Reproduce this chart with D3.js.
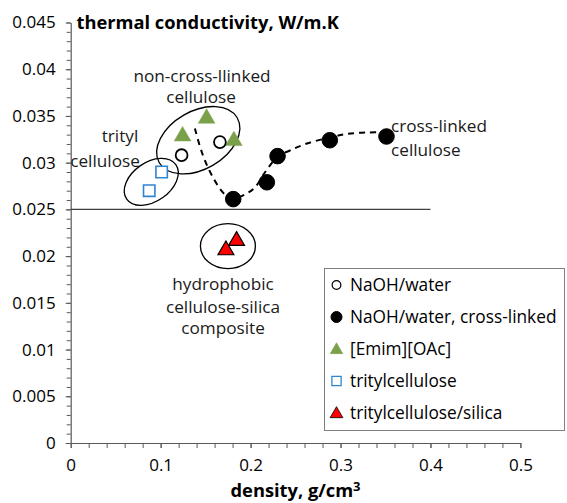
<!DOCTYPE html>
<html>
<head>
<meta charset="utf-8">
<script src="https://cdn.jsdelivr.net/npm/d3@7"></script>
<style>
  html, body { margin: 0; padding: 0; background: #fff; }
  svg { display: block; font-family: "Open Sans", Lato, sans-serif; }
</style>
</head>
<body>
<svg id="chart" width="567" height="503"></svg>
<script>
// Thermal conductivity vs density of cellulose aerogels
const naohWater = [[0.1233, 0.0308], [0.1659, 0.0322]];
const naohCrossLinked = [[0.1807, 0.0261], [0.2181, 0.0279], [0.2300, 0.0307], [0.2881, 0.0324], [0.3511, 0.0328]];
const emimOAc = [[0.1244, 0.0330], [0.1511, 0.0349], [0.1814, 0.0325]];
const tritylCellulose = [[0.0873, 0.0270], [0.1011, 0.0290]];
const tritylSilica = [[0.1844, 0.0218], [0.1726, 0.0208]];

// dashed trend through the cross-linked series
const trend = [[0.1381, 0.03365], [0.1459, 0.03109], [0.1570, 0.02863], [0.1703, 0.02671], [0.1803, 0.02618],
  [0.1937, 0.02660], [0.2048, 0.02735], [0.2159, 0.02895], [0.2303, 0.03066], [0.2437, 0.03130],
  [0.2626, 0.03205], [0.2881, 0.03269], [0.3070, 0.03307], [0.3292, 0.03323], [0.3526, 0.03323]];

// reference level
const refLevel = 0.025;
const refLevelEnd = 0.4;

const xTicks = [0, 0.1, 0.2, 0.3, 0.4, 0.5];
const xTickLabels = ["0", "0.1", "0.2", "0.3", "0.4", "0.5"];
const yTicks = [0, 0.005, 0.01, 0.015, 0.02, 0.025, 0.03, 0.035, 0.04, 0.045];
const yTickLabels = ["0", "0.005", "0.01", "0.015", "0.02", "0.025", "0.03", "0.035", "0.04", "0.045"];

const legendLabels = ["NaOH/water", "NaOH/water, cross-linked", "[Emim][OAc]", "tritylcellulose", "tritylcellulose/silica"];

// group outlines: centre in data units
const groupCentres = [[0.0896, 0.02795], [0.1418, 0.03240], [0.1748, 0.02106]];
const groupLabels = [
  ["trityl", "cellulose"],
  ["non-cross-llinked", "cellulose"],
  ["hydrophobic", "cellulose-silica", "composite"],
  ["cross-linked", "cellulose"]
];

const GREEN = "#7aa049", BLUE = "#2e86d0", RED = "#ff0000";
const FONT = "'Open Sans', Lato, sans-serif";

const svg = d3.select("#chart");
const x = d3.scaleLinear().domain([0, 0.5]).range([70.7, 520.4]);
const y = d3.scaleLinear().domain([0, 0.045]).range([443, 22.5]);

const fmtIdx = (vals, labels) => d => labels[vals.findIndex(v => Math.abs(v - d) < 1e-9)];

// minor ticks
svg.append("g").attr("transform", `translate(0,${y(0)})`)
  .call(d3.axisBottom(x).tickValues(d3.range(0, 0.5001, 0.02)).tickSize(5).tickFormat(""))
  .call(g => g.select(".domain").remove())
  .call(g => g.selectAll("line").attr("stroke", "#595959"));
svg.append("g").attr("transform", `translate(${x(0)},0)`)
  .call(d3.axisLeft(y).tickValues(d3.range(0, 0.04501, 0.001)).tickSize(4).tickFormat(""))
  .call(g => g.select(".domain").remove())
  .call(g => g.selectAll("line").attr("stroke", "#595959"));

// major axes
const xAxis = svg.append("g").attr("transform", `translate(0,${y(0)})`)
  .call(d3.axisBottom(x).tickValues(xTicks).tickSize(5).tickSizeOuter(0).tickPadding(11).tickFormat(fmtIdx(xTicks, xTickLabels)));
const yAxis = svg.append("g").attr("transform", `translate(${x(0)},0)`)
  .call(d3.axisLeft(y).tickValues(yTicks).tickSize(5).tickSizeOuter(0).tickPadding(10).tickFormat(fmtIdx(yTicks, yTickLabels)));
[xAxis, yAxis].forEach(a => {
  a.select(".domain").attr("stroke", "#595959").attr("stroke-width", 1.2);
  a.selectAll("line").attr("stroke", "#595959");
  a.selectAll("text").attr("font-size", 17).attr("fill", "#000").attr("font-family", FONT);
});
xAxis.selectAll("text").attr("dy", "0.71em");

// axis titles
svg.append("text").attr("x", 76.5).attr("y", 28.7)
  .attr("font-size", 18.3).attr("font-weight", "bold").text("thermal conductivity, W/m.K");
const xt = svg.append("text").attr("x", (x(0) + x(0.5)) / 2).attr("y", 497)
  .attr("text-anchor", "middle").attr("font-size", 18.3).attr("font-weight", "bold");
xt.append("tspan").text("density, g/cm");
xt.append("tspan").attr("font-size", 13).attr("dy", -6).text("3");

// reference line
svg.append("line").attr("x1", x(0)).attr("x2", x(refLevelEnd))
  .attr("y1", y(refLevel)).attr("y2", y(refLevel))
  .attr("stroke", "#404040").attr("stroke-width", 1.2);

// group outlines
const outlineShape = [
  { rx: 30, ry: 19.5, rot: -35 },
  { rx: 45, ry: 29, rot: -30 },
  { rx: 27.5, ry: 22.5, rot: 0 }
];
svg.append("g").selectAll("ellipse").data(groupCentres).join("ellipse")
  .attr("transform", (d, i) => `translate(${x(d[0])},${y(d[1])}) rotate(${outlineShape[i].rot})`)
  .attr("rx", (d, i) => outlineShape[i].rx).attr("ry", (d, i) => outlineShape[i].ry)
  .attr("fill", "none").attr("stroke", "#000").attr("stroke-width", 1.3);

// trend line
svg.append("path").datum(trend)
  .attr("d", d3.line().x(d => x(d[0])).y(d => y(d[1])).curve(d3.curveCatmullRom))
  .attr("fill", "none").attr("stroke", "#000").attr("stroke-width", 2).attr("stroke-dasharray", "6,5");

// markers
const tri = s => d3.symbol().type(d3.symbolTriangle).size(s)();
const sq = s => d3.symbol().type(d3.symbolSquare).size(s)();
const circ = s => d3.symbol().type(d3.symbolCircle).size(s)();

function drawSeries(data, path, fill, stroke, sw, dy) {
  svg.append("g").selectAll("path").data(data).join("path")
    .attr("transform", d => `translate(${x(d[0])},${y(d[1]) + (dy || 0)})`)
    .attr("d", path).attr("fill", fill).attr("stroke", stroke).attr("stroke-width", sw);
}
drawSeries(tritylCellulose, sq(130), "#fff", BLUE, 1.6);
drawSeries(emimOAc, tri(120), GREEN, GREEN, 0.5, 1.5);
drawSeries(naohWater, circ(110), "#fff", "#000", 1.8);
drawSeries(naohCrossLinked, circ(190), "#000", "#000", 1);
drawSeries(tritylSilica, tri(110), RED, "#000", 1.2, 1.5);

// group labels
const labelPos = [
  { y0: 142, anchor: "middle", lines: [[120, 0], [105, 25]] },
  { y0: 81.5, anchor: "middle", lines: [[202, 0], [201, 21.5]] },
  { y0: 290, anchor: "middle", lines: [[223, 0], [223, 22.5], [223, 44]] },
  { y0: 131.5, anchor: "start", lines: [[391, 0], [391, 24.5]] }
];
groupLabels.forEach((lines, i) => {
  const p = labelPos[i];
  lines.forEach((t, j) => {
    svg.append("text").attr("x", p.lines[j][0]).attr("y", p.y0 + p.lines[j][1])
      .attr("text-anchor", p.anchor).attr("font-size", 17.2).attr("fill", "#1a1a1a").text(t);
  });
});

// legend
const lg = svg.append("g");
lg.append("rect").attr("x", 324.5).attr("y", 268.5).attr("width", 240).attr("height", 162)
  .attr("fill", "#fff").attr("stroke", "#7f7f7f").attr("stroke-width", 1);
const legendMarks = [
  { d: circ(60), fill: "#fff", stroke: "#000", sw: 1.2 },
  { d: circ(95), fill: "#000", stroke: "#000", sw: 1 },
  { d: tri(70), fill: GREEN, stroke: GREEN, sw: 0.5 },
  { d: sq(85), fill: "#fff", stroke: BLUE, sw: 1.3 },
  { d: tri(70), fill: RED, stroke: "#000", sw: 0.8 }
];
const rowY = i => 285 + i * 32;
lg.selectAll("path").data(legendLabels).join("path")
  .attr("transform", (d, i) => `translate(336.5,${rowY(i) + (i === 2 || i === 4 ? 1 : 0)})`)
  .attr("d", (d, i) => legendMarks[i].d)
  .attr("fill", (d, i) => legendMarks[i].fill)
  .attr("stroke", (d, i) => legendMarks[i].stroke)
  .attr("stroke-width", (d, i) => legendMarks[i].sw);
lg.selectAll("text").data(legendLabels).join("text")
  .attr("x", 350).attr("y", (d, i) => rowY(i)).attr("dy", "0.35em")
  .attr("font-size", 17.3).attr("fill", "#000").text(d => d);
</script>
</body>
</html>
